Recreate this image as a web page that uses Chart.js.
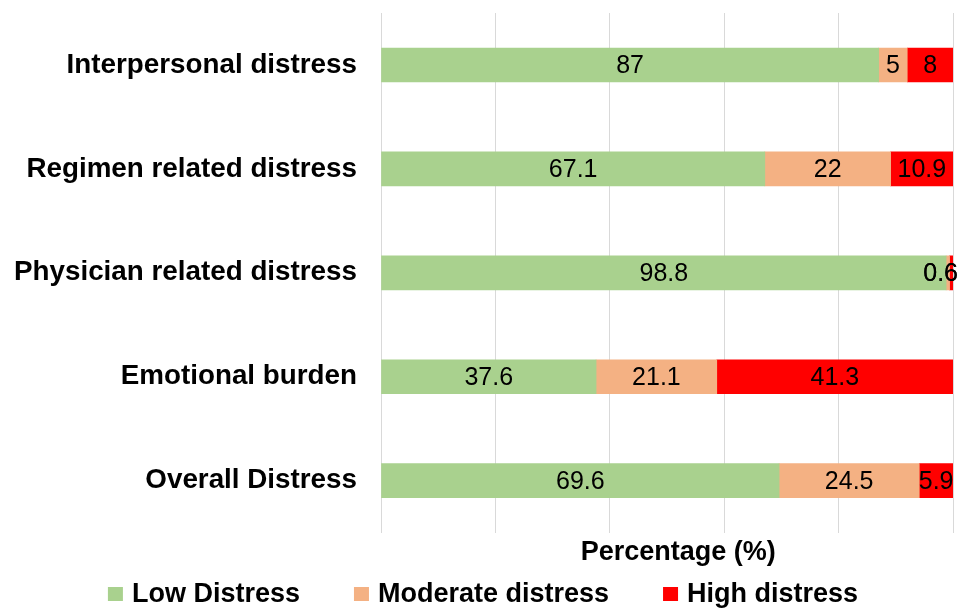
<!DOCTYPE html>
<html>
<head>
<meta charset="utf-8">
<script src="https://cdn.jsdelivr.net/npm/chart.js@4.4.1/dist/chart.umd.min.js"></script>
<style>
  html, body { margin: 0; padding: 0; background: #ffffff; }
  #wrap { width: 959px; height: 610px; }
</style>
</head>
<body>
<div id="wrap"><canvas id="chart" width="959" height="610"></canvas></div>
<script>
// Distress domains (top to bottom) and the share of patients in each level (%)
const categories = [
  'Interpersonal distress',
  'Regimen related distress',
  'Physician related distress',
  'Emotional burden',
  'Overall Distress'
];
const lowDistress = [87, 67.1, 98.8, 37.6, 69.6];
const moderateDistress = [5, 22, 0.6, 21.1, 24.5];
const highDistress = [8, 10.9, 0.6, 41.3, 5.9];
const xTicks = [0, 20, 40, 60, 80, 100];

const FONT = "'Liberation Sans', Arial, Helvetica, sans-serif";

// Writes each segment's value in the middle of its bar piece,
// nudged left when it would run past the right edge of the chart
const segmentLabels = {
  id: 'segmentLabels',
  afterDatasetsDraw(chart) {
    const ctx = chart.ctx;
    ctx.save();
    ctx.font = '25px ' + FONT;
    ctx.fillStyle = '#000000';
    ctx.textAlign = 'center';
    ctx.textBaseline = 'middle';
    const rightLimit = chart.width - 1;
    chart.data.datasets.forEach((ds, di) => {
      const meta = chart.getDatasetMeta(di);
      meta.data.forEach((bar, i) => {
        const text = String(ds.data[i]);
        const w = ctx.measureText(text).width;
        let cx = (bar.x + bar.base) / 2;
        if (cx + w / 2 > rightLimit) cx = rightLimit - w / 2;
        ctx.fillText(text, cx, bar.y + 1);
      });
    });
    ctx.restore();
  }
};

// Legend row under the axis title: square swatch + bold series name
const bottomLegend = {
  id: 'bottomLegend',
  afterDraw(chart) {
    const ctx = chart.ctx;
    const box = 15, gap = 9, itemGap = 54, centerX = 483, y = 594;
    ctx.save();
    ctx.font = 'bold 27px ' + FONT;
    ctx.textBaseline = 'middle';
    ctx.textAlign = 'left';
    const items = chart.data.datasets.map(ds => ({
      text: ds.label,
      color: ds.backgroundColor,
      w: ctx.measureText(ds.label).width
    }));
    const total = items.reduce((s, it) => s + box + gap + it.w, 0) + itemGap * (items.length - 1);
    let x = centerX - total / 2;
    items.forEach(it => {
      ctx.fillStyle = it.color;
      ctx.fillRect(x, y - 7, box, 14);
      ctx.fillStyle = '#000000';
      ctx.fillText(it.text, x + box + gap, y + 1);
      x += box + gap + it.w + itemGap;
    });
    ctx.restore();
  }
};

new Chart(document.getElementById('chart'), {
  type: 'bar',
  data: {
    labels: categories,
    datasets: [
      { label: 'Low Distress', data: lowDistress, backgroundColor: '#A9D18E' },
      { label: 'Moderate distress', data: moderateDistress, backgroundColor: '#F4B183' },
      { label: 'High distress', data: highDistress, backgroundColor: '#FF0000' }
    ]
  },
  options: {
    indexAxis: 'y',
    responsive: false,
    animation: false,
    maintainAspectRatio: false,
    layout: { padding: { top: 13, right: 6, left: 0, bottom: 41 } },
    datasets: { bar: { barThickness: 34 } },
    scales: {
      x: {
        stacked: true,
        min: 0,
        max: 100,
        afterBuildTicks(scale) { scale.ticks = xTicks.map(v => ({ value: v })); },
        ticks: { display: false },
        grid: { color: '#D9D9D9', lineWidth: 1, drawTicks: false },
        border: { display: false },
        title: {
          display: true,
          text: '   Percentage (%)',
          color: '#000000',
          font: { family: FONT, size: 27, weight: 'bold' },
          padding: { top: 4, bottom: 0 }
        }
      },
      y: {
        stacked: true,
        afterFit(scale) {
          scale.width = 381;
          scale.paddingTop = 0;
          scale.paddingBottom = 0;
        },
        ticks: {
          color: '#000000',
          padding: 24,
          font: { family: FONT, size: 27.8, weight: 'bold' }
        },
        grid: { display: false, drawTicks: false },
        border: { display: false }
      }
    },
    plugins: {
      legend: { display: false },
      tooltip: { enabled: false }
    }
  },
  plugins: [segmentLabels, bottomLegend]
});
</script>
</body>
</html>
